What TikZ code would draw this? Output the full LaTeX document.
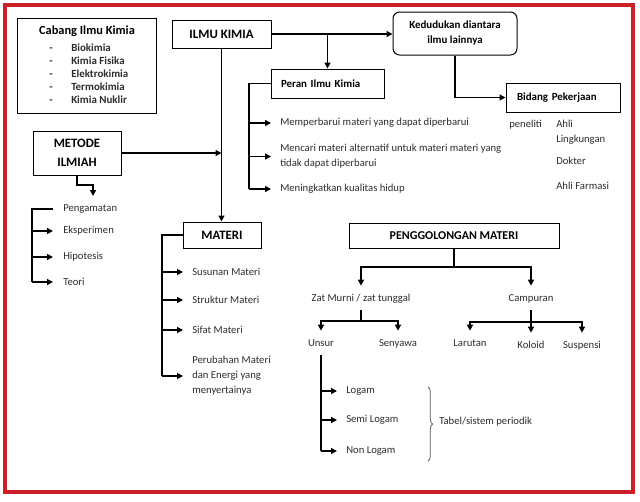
\documentclass[tikz,border=0pt]{standalone}
\usepackage{fontspec}
\setmainfont{Carlito}
\usetikzlibrary{arrows.meta,decorations.pathreplacing,calc}
\definecolor{redframe}{RGB}{204,32,40}
\definecolor{txtgray}{RGB}{45,45,45}
\begin{document}
\begin{tikzpicture}[x=0.75pt,y=-0.75pt,
  box/.style={draw,line width=0.75pt,inner sep=0pt},
  conn/.style={line width=1pt},
  arr/.style={conn,-{Triangle[length=4.5pt,width=4.5pt]}},
  body/.style={font=\fontsize{8}{11.25}\selectfont, text=txtgray, inner sep=0pt, anchor=west, align=left},
  head/.style={font=\bfseries\fontsize{8.2}{11.25}\selectfont},
  big/.style={font=\bfseries\fontsize{9.6}{14.25}\selectfont},
  cabitem/.style={font=\bfseries\fontsize{8.2}{9}\selectfont, text=txtgray, inner sep=0pt, text height=6pt, text depth=1.5pt},
  leaf/.style={font=\fontsize{8}{11.25}\selectfont, text=txtgray, inner sep=0pt, text height=6pt, text depth=1.5pt, outer ysep=5.5pt},
]
\useasboundingbox[fill=white] (0,0) rectangle (640,501);
\draw[redframe, line width=2.4pt] (5,5) rectangle (633,492);

% Cabang Ilmu Kimia
\node[box, minimum width=104.25pt, minimum height=71.25pt] (cabang) at (86.5,65.5) {};
\node[font=\bfseries\fontsize{9.3}{10}\selectfont, inner sep=0pt] (cabangT) at (87,31) {Cabang Ilmu Kimia};
\foreach \t [count=\i] in {Biokimia, Kimia Fisika, Elektrokimia, Termokimia, Kimia Nuklir}{
  \node[cabitem] (cd\i) at (51,35+13*\i) {-};
  \node[cabitem, anchor=west] (c\i) at (71,35+13*\i) {\t};
}

% main boxes
\node[box, big, minimum width=74.25pt, minimum height=21pt] (ilmu) at (221.5,34) {ILMU KIMIA};
\node[box, head, rounded corners=5pt, minimum width=93pt, minimum height=32.25pt, align=center] (ked) at (455,33.5) {Kedudukan diantara\\ilmu lainnya};
\node[box, head, text width=69.75pt, inner xsep=7.5pt, minimum height=21.75pt, align=left] (peran) at (327.5,83.5) {Peran Ilmu Kimia};
\node[box, head, text width=69pt, inner xsep=8.25pt, minimum height=21.75pt, align=left] (bidang) at (563,97.5) {Bidang Pekerjaan};
\node[box, big, align=center, minimum width=66pt, minimum height=33pt] (metode) at (77,153) {METODE\\ILMIAH};
\node[box, big, minimum width=58.5pt, minimum height=19.5pt] (materi) at (222,235) {MATERI};
\node[box, font=\bfseries\fontsize{9}{11}\selectfont, minimum width=157.5pt, minimum height=18.75pt] (pg) at (454,235.5) {PENGGOLONGAN MATERI};

% Peran items
\node[body] (p1) at (280,123) {Memperbarui materi yang dapat diperbarui};
\node[body] (p2) at (280,156.5) {Mencari materi alternatif untuk materi materi yang\\tidak dapat diperbarui};
\node[body] (p3) at (280,189) {Meningkatkan kualitas hidup};

% Bidang items
\node[body] (b1) at (509,125) {peneliti};
\node[body] (b2) at (556,132.5) {Ahli\\Lingkungan};
\node[body] (b3) at (556,161) {Dokter};
\node[body] (b4) at (556,186) {Ahli Farmasi};

% Metode items
\node[body] (m1) at (63,209) {Pengamatan};
\node[body] (m2) at (63,231) {Eksperimen};
\node[body] (m3) at (63,257) {Hipotesis};
\node[body] (m4) at (63,282) {Teori};

% Materi items
\node[body] (t1) at (192,272) {Susunan Materi};
\node[body] (t2) at (192,300) {Struktur Materi};
\node[body] (t3) at (192,330) {Sifat Materi};
\node[body] (t4) at (192,376) {Perubahan Materi\\dan Energi yang\\menyertainya};

% Penggolongan tree
\node[leaf] (zat) at (361,298) {Zat Murni / zat tunggal};
\node[leaf] (camp) at (531,298) {Campuran};
\node[leaf] (unsur) at (321,343) {Unsur};
\node[leaf] (seny) at (398,343) {Senyawa};
\node[leaf] (lar) at (470,343) {Larutan};
\node[leaf] (kol) at (531,345) {Koloid};
\node[leaf] (sus) at (582,345) {Suspensi};

\node[body] (u1) at (346,391) {Logam};
\node[body] (u2) at (346,420) {Semi Logam};
\node[body] (u3) at (346,451) {Non Logam};
\node[body] (tabel) at (439,422) {Tabel/sistem periodik};

% connectors
\draw[arr] (ilmu.east) -- (ilmu.east -| ked.west);
\draw[arr] (ilmu.east -| peran.north) -- (peran.north);
\draw[arr] (ilmu.south) -- (ilmu.south |- materi.north);
\draw[arr] (metode.east) -- (metode.east -| ilmu.south);
\draw[arr] (ked.south) |- (bidang.west);

\coordinate (pl) at (249,0);
\draw[conn] (peran.west) -| (pl |- p3.west);
\foreach \n in {p1,p2,p3} \draw[arr] (pl |- \n.west) -- ([xshift=-6.75pt]\n.west);

\coordinate (mk) at (93,185);
\coordinate (md) at (93,196);
\draw[arr] (metode.south) |- (mk) -- (md);

\coordinate (ml) at (32,0);
\draw[conn] ([xshift=-7.5pt]m1.west) -- (ml |- m1.west) -- (ml |- m4.west);
\foreach \n in {m2,m3,m4} \draw[arr] (ml |- \n.west) -- ([xshift=-7.5pt]\n.west);

\coordinate (tl) at (162,0);
\draw[conn] (materi.west) -| (tl |- t4.west);
\foreach \n in {t1,t2,t3,t4} \draw[arr] (tl |- \n.west) -- ([xshift=-6.75pt]\n.west);

\coordinate (pj) at (454,267);
\draw[conn] (pg.south) -- (pj);
\draw[arr] (pj) -| (zat.north);
\draw[arr] (pj) -| (camp.north);
\coordinate (zj) at (361,321);
\draw[conn] (zat.south) -- (zj);
\draw[arr] (zj) -| (unsur.north);
\draw[arr] (zj) -| (seny.north);
\coordinate (cj) at (531,322);
\draw[conn] (camp.south) -- (cj);
\draw[arr] (cj) -| (lar.north);
\draw[arr] (cj) -- (kol.north);
\draw[arr] (cj) -| (sus.north);

\draw[conn] (unsur.south) -- (unsur.south |- u3.west);
\foreach \n in {u1,u2,u3} \draw[arr] (unsur.south |- \n.west) -- ([xshift=-6.75pt]\n.west);

\coordinate (br1) at (428,387);
\coordinate (br2) at (428,461);
\draw[black!65, line width=0.6pt, decorate, decoration={brace, amplitude=3.5pt}] (br1) -- (br2);
\end{tikzpicture}
\end{document}
